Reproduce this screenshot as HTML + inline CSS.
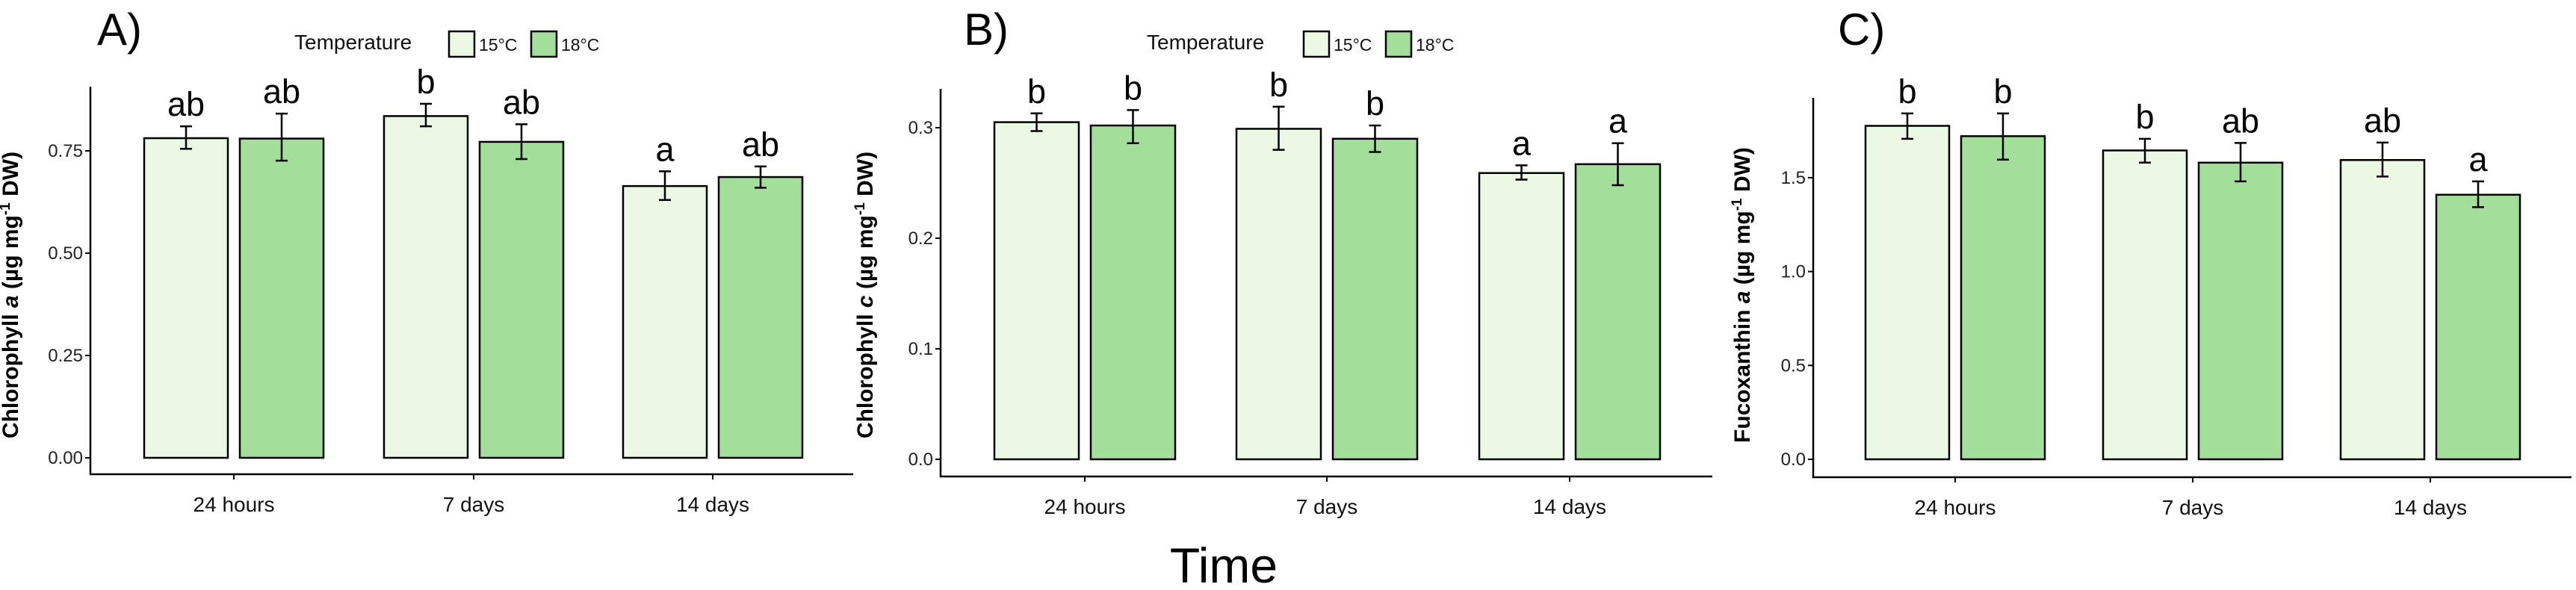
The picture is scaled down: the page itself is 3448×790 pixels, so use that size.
<!DOCTYPE html>
<html><head><meta charset="utf-8"><style>
html,body{margin:0;padding:0;background:#fff;}
svg{display:block;font-family:"Liberation Sans",sans-serif;}
</style></head><body>
<svg id="fig" width="3448" height="790" viewBox="0 0 3448 790" xmlns="http://www.w3.org/2000/svg"></svg>
<script>
const categories = ["24 hours","7 days","14 days"];
const seriesNames = ["15°C","18°C"];
const aMean15 = [0.781,0.835,0.664];
const aMean18 = [0.780,0.772,0.686];
const aLo15 = [0.755,0.810,0.630];
const aHi15 = [0.810,0.865,0.700];
const aLo18 = [0.726,0.730,0.660];
const aHi18 = [0.841,0.815,0.712];
const aLet15 = ["ab","b","a"];
const aLet18 = ["ab","ab","ab"];
const aTicks = [0,0.25,0.5,0.75];
const aTickLabels = ["0.00","0.25","0.50","0.75"];

const bMean15 = [0.305,0.299,0.259];
const bMean18 = [0.302,0.290,0.267];
const bLo15 = [0.297,0.280,0.253];
const bHi15 = [0.313,0.319,0.266];
const bLo18 = [0.286,0.278,0.248];
const bHi18 = [0.316,0.302,0.286];
const bLet15 = ["b","b","a"];
const bLet18 = ["b","b","a"];
const bTicks = [0,0.1,0.2,0.3];
const bTickLabels = ["0.0","0.1","0.2","0.3"];

const cMean15 = [1.776,1.645,1.594];
const cMean18 = [1.721,1.580,1.409];
const cLo15 = [1.707,1.580,1.506];
const cHi15 = [1.842,1.707,1.687];
const cLo18 = [1.596,1.480,1.343];
const cHi18 = [1.842,1.685,1.480];
const cLet15 = ["b","b","ab"];
const cLet18 = ["b","ab","a"];
const cTicks = [0,0.5,1.0,1.5];
const cTickLabels = ["0.0","0.5","1.0","1.5"];

const NS="http://www.w3.org/2000/svg";
const svg=document.getElementById('fig');
function mk(tag,attrs,parent,text){const e=document.createElementNS(NS,tag);for(const k in attrs)e.setAttribute(k,attrs[k]);if(text!==undefined)e.textContent=text;(parent||svg).appendChild(e);return e;}

const FILL15="#eaf8e4", FILL18="#a3de9b";

const panels=[
 {key:"a",label:"A)",labelX:130,axisX:121,axisTop:116,axisEnd:1142,xAxisY:635,y0:613,yPerUnit:548,
  centers:[313,634,954],barW:112,gap:16,
  mean15:aMean15,mean18:aMean18,lo15:aLo15,hi15:aHi15,lo18:aLo18,hi18:aHi18,let15:aLet15,let18:aLet18,
  ticks:aTicks,tickLabels:aTickLabels,title:["Chlorophyll ","a"," (µg mg","-1"," DW)"],titleX:24,titleY:395,
  legend:{x:394,box1:601,box2:711}},
 {key:"b",label:"B)",labelX:1290,axisX:1259,axisTop:119,axisEnd:2292,xAxisY:638,y0:615,yPerUnit:1480,
  centers:[1452,1776,2101],barW:113,gap:16,
  mean15:bMean15,mean18:bMean18,lo15:bLo15,hi15:bHi15,lo18:bLo18,hi18:bHi18,let15:bLet15,let18:bLet18,
  ticks:bTicks,tickLabels:bTickLabels,title:["Chlorophyll ","c"," (µg mg","-1"," DW)"],titleX:1168,titleY:395,
  legend:{x:1535,box1:1745,box2:1855}},
 {key:"c",label:"C)",labelX:2460,axisX:2427,axisTop:131,axisEnd:3442,xAxisY:639,y0:615,yPerUnit:251.4,
  centers:[2617,2935,3253],barW:112,gap:16,
  mean15:cMean15,mean18:cMean18,lo15:cLo15,hi15:cHi15,lo18:cLo18,hi18:cHi18,let15:cLet15,let18:cLet18,
  ticks:cTicks,tickLabels:cTickLabels,title:["Fucoxanthin ","a"," (µg mg","-1"," DW)"],titleX:2342,titleY:395,
  legend:null}
];

panels.forEach(p=>{
  const g=mk('g',{});
  
  
  const yS=v=>p.y0-v*p.yPerUnit;
  const pl=mk('text',{x:p.labelX,y:60,'font-size':60,fill:'#000'},g,p.label);
  
  
  const ya=mk('line',{x1:p.axisX,y1:p.axisTop,x2:p.axisX,y2:p.xAxisY+1,stroke:'#000','stroke-width':2.5},g);
  
  
  const xa=mk('line',{x1:p.axisX-1,y1:p.xAxisY,x2:p.axisEnd,y2:p.xAxisY,stroke:'#000','stroke-width':2.5},g);
  
  
  p.ticks.forEach((t,i)=>{
    const y=yS(t);
    mk('line',{x1:p.axisX-7,y1:y,x2:p.axisX,y2:y,stroke:'#000','stroke-width':2},g);
    const tl=mk('text',{x:p.axisX-10,y:y+8,'font-size':24,'text-anchor':'end',fill:'#222'},g,p.tickLabels[i]);
    
    
  });
  categories.forEach((c,i)=>{
    const cx=p.centers[i];
    mk('line',{x1:cx,y1:p.xAxisY,x2:cx,y2:p.xAxisY+7,stroke:'#000','stroke-width':2},g);
    const xl=mk('text',{x:cx,y:p.xAxisY+50,'font-size':28,'text-anchor':'middle',fill:'#111'},g,c);
    
    
    [[p.mean15,p.lo15,p.hi15,p.let15,FILL15,-1],[p.mean18,p.lo18,p.hi18,p.let18,FILL18,1]].forEach((s,si)=>{
      const left = s[5]<0 ? cx-p.gap/2-p.barW : cx+p.gap/2;
      const bx=left+p.barW/2;
      const top=yS(s[0][i]);
      const r=mk('rect',{x:left,y:top,width:p.barW,height:p.y0-top,fill:s[4],stroke:'#000','stroke-width':2.5},g);
      
      
      const yh=yS(s[2][i]), yl=yS(s[1][i]);
      const eb=mk('path',{d:`M${bx-8},${yh}H${bx+8}M${bx},${yh}V${yl}M${bx-8},${yl}H${bx+8}`,stroke:'#000','stroke-width':2.5,fill:'none'},g);
      
      
      const lt=mk('text',{x:bx,y:yh-14,'font-size':45,'text-anchor':'middle',fill:'#000'},g,s[3][i]);
      
      
    });
  });
  const t=mk('text',{x:p.titleX,y:p.titleY,'font-size':30,'font-weight':'bold','text-anchor':'middle',fill:'#000',transform:`rotate(-90 ${p.titleX} ${p.titleY})`},g);
  
  
  p.title.forEach((part,k)=>{
    const ts=mk('tspan',{},t,part);
    if(k===1)ts.setAttribute('font-style','italic');
    if(k===3){ts.setAttribute('font-size','19');ts.setAttribute('dy','-11');}
    if(k===4){ts.setAttribute('dy','11');}
  });
  if(p.legend){
    const L=p.legend;
    const lg=mk('g',{},g);
    
    
    mk('text',{x:L.x,y:66,'font-size':28,fill:'#111'},lg,'Temperature');
    [[L.box1,FILL15,seriesNames[0]],[L.box2,FILL18,seriesNames[1]]].forEach(b=>{
      const e=mk('g',{},lg);
      
      
      mk('rect',{x:b[0],y:42,width:34,height:34,fill:b[1],stroke:'#000','stroke-width':2.5},e);
      mk('text',{x:b[0]+40,y:68,'font-size':23,fill:'#111'},e,b[2]);
    });
  }
});
const tt=mk('text',{x:1638,y:780,'font-size':66,'text-anchor':'middle',fill:'#000'},svg,'Time');


</script>
</body></html>
